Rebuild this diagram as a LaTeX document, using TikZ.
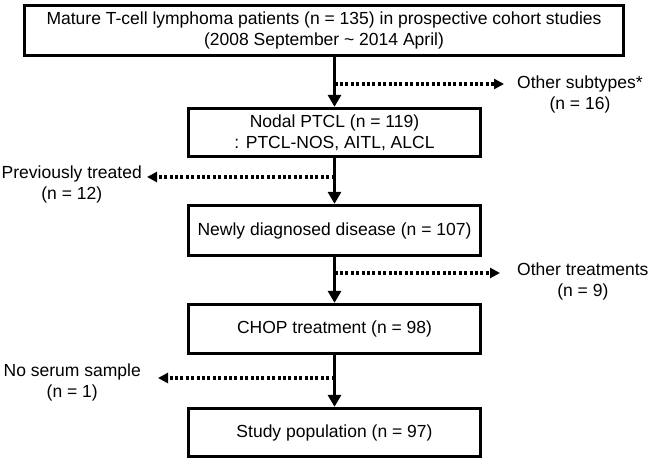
\documentclass[tikz,border=0pt]{standalone}
\usepackage{fontspec}
\setmainfont{Liberation Sans}
\usetikzlibrary{arrows.meta,calc}

\begin{document}
\begin{tikzpicture}[x=1pt, y=-1pt,
	txt/.style={font=\fontsize{17.5}{21}\selectfont, align=center, inner sep=0pt},
	box/.style={txt, draw, line width=3.3pt, minimum width=292pt},
	flow/.style={line width=3.2pt, -{Triangle[length=12pt,width=13pt]}},
	side/.style={line width=3.4pt, dash pattern=on 3pt off 2.4pt, -{Triangle[length=10pt,width=10pt]}}]
			%%%%% FRAME %%%%%
			\useasboundingbox (0, 0) rectangle (650, 463);
			
			%%%%% BOXES %%%%%
			\node[box, minimum width=599pt, minimum height=50pt] (cohort) at (324, 30.5) {Mature T-cell lymphoma patients (n = 135) in prospective cohort studies\\(2008 September \textasciitilde{} 2014 April)};
			\node[box, minimum height=48pt] (nodal) at (334.5, 132.5) {Nodal PTCL (n = 119)\\: PTCL-NOS, AITL, ALCL};
			\node[box, minimum height=50pt] (newly) at (334.5, 230.5) {Newly diagnosed disease (n = 107)};
			\node[box, minimum height=49pt] (chop) at (334.5, 329) {CHOP treatment (n = 98)};
			\node[box, minimum height=48pt] (study) at (334.5, 432.5) {Study population (n = 97)};
			
			%%%%% EXCLUSIONS %%%%%
			\node[txt, anchor=west] (subtypes) at (517, 94) {Other subtypes*\\(n = 16)};
			\node[txt, anchor=east] (treated) at (142, 184) {Previously treated\\(n = 12)};
			\node[txt, anchor=west] (othertx) at (517, 281) {Other treatments\\(n = 9)};
			\node[txt, anchor=east] (noserum) at (141, 382) {No serum sample\\(n = 1)};
			
			\coordinate (k1) at (334.5, 84);
			\coordinate (k2) at (334.5, 177);
			\coordinate (k3) at (334.5, 273);
			\coordinate (k4) at (334.5, 378);
			
			%%%%% ARROWS %%%%%
			\draw[flow] (cohort.south -| nodal.north) -- (nodal.north);
			\draw[flow] (nodal.south) -- (newly.north);
			\draw[flow] (newly.south) -- (chop.north);
			\draw[flow] (chop.south) -- (study.north);
			
			\draw[side, shorten >=13pt] (k1) -- (k1 -| subtypes.west);
			\draw[side, shorten >=5pt] (k2) -- (k2 -| treated.east);
			\draw[side, shorten >=17pt] (k3) -- (k3 -| othertx.west);
			\draw[side, shorten >=17pt] (k4) -- (k4 -| noserum.east);
			
			%%%%% END %%%%%
\end{tikzpicture}
\end{document}
